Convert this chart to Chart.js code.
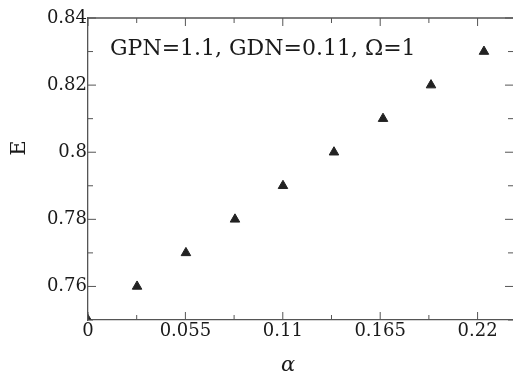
<!DOCTYPE html>
<html>
<head>
<meta charset="utf-8">
<script src="https://cdn.jsdelivr.net/npm/chart.js@4"></script>
<style>
  html, body { margin: 0; padding: 0; background: #fff; overflow: hidden; }
</style>
</head>
<body>
<canvas id="myChart" width="513" height="383"></canvas>
<script>
// values
const alpha = [0, 0.0277, 0.0553, 0.0830, 0.1101, 0.1389, 0.1666, 0.1937, 0.2236];
const energy = [0.75, 0.76, 0.77, 0.78, 0.79, 0.80, 0.81, 0.82, 0.83];

const xTickValues = [0, 0.0275, 0.055, 0.0825, 0.11, 0.1375, 0.165, 0.1925, 0.22];
const xTickLabels = ['0', '', '0.055', '', '0.11', '', '0.165', '', '0.22'];
const yTickValues = [0.75, 0.76, 0.77, 0.78, 0.79, 0.80, 0.81, 0.82, 0.83, 0.84];
const yTickLabels = ['', '0.76', '', '0.78', '', '0.8', '', '0.82', '', '0.84'];

const note = 'GPN=1.1, GDN=0.11, \u03A9=1';
const FONT = '"DejaVu Serif", "Liberation Serif", serif';
const LINE = '#555';

const frame = {
    id: 'frame',
    afterDraw(chart) {
        const {ctx, chartArea: a, scales: {x, y}} = chart;
        ctx.save();
        ctx.strokeStyle = LINE;
        ctx.lineWidth = 1.3;
        // top border
        ctx.beginPath();
        ctx.moveTo(a.left, a.top);
        ctx.lineTo(a.right, a.top);
        ctx.stroke();
        // inward ticks, long for labelled ones
        ctx.lineWidth = 1;
        xTickValues.forEach((v, i) => {
            const px = x.getPixelForValue(v);
            const len = xTickLabels[i] ? 8 : 5;
            ctx.beginPath();
            ctx.moveTo(px, a.bottom); ctx.lineTo(px, a.bottom - len);
            ctx.moveTo(px, a.top); ctx.lineTo(px, a.top + len);
            ctx.stroke();
        });
        yTickValues.forEach((v, i) => {
            const py = y.getPixelForValue(v);
            const len = yTickLabels[i] ? 8 : 5;
            ctx.beginPath();
            ctx.moveTo(a.left, py); ctx.lineTo(a.left + len, py);
            ctx.moveTo(a.right, py); ctx.lineTo(a.right - len, py);
            ctx.stroke();
        });
        // note text
        ctx.fillStyle = '#1a1a1a';
        ctx.font = '22px ' + FONT;
        ctx.textBaseline = 'middle';
        ctx.textAlign = 'left';
        ctx.fillText(note, a.left + 22, a.top + 31);
        // axis titles
        ctx.font = 'italic 21px ' + FONT;
        ctx.textAlign = 'center';
        ctx.fillText('\u03B1', a.left + 200, 366);
        ctx.translate(20, a.top + 130);
        ctx.rotate(-Math.PI / 2);
        ctx.font = '21px ' + FONT;
        ctx.fillText('E', 0, 0);
        ctx.restore();
    }
};

new Chart(document.getElementById('myChart'), {
    type: 'scatter',
    data: {
        datasets: [{
            data: alpha.map((a, i) => ({x: a, y: energy[i]})),
            pointStyle: 'triangle',
            pointRadius: 5.5,
            backgroundColor: '#222',
            borderColor: '#222',
            borderWidth: 1
        }]
    },
    options: {
        responsive: false,
        animation: false,
        layout: {autoPadding: false, padding: {top: 18, right: 0, left: 0, bottom: 0}},
        plugins: {legend: {display: false}, tooltip: {enabled: false}},
        scales: {
            x: {
                type: 'linear',
                min: 0,
                max: 0.24,
                afterBuildTicks: s => { s.ticks = xTickValues.map(v => ({value: v})); },
                afterFit: s => {
                    s.height = 63;
                    s.paddingLeft = 0;
                    s.paddingRight = 0;
                },
                grid: {display: false, drawTicks: false},
                border: {display: true, color: LINE, width: 1.3},
                ticks: {
                    color: '#1a1a1a',
                    padding: 1,
                    autoSkip: false,
                    maxRotation: 0,
                    font: {family: FONT, size: 18},
                    callback: (v, i) => xTickLabels[i]
                }
            },
            y: {
                min: 0.75,
                max: 0.84,
                afterBuildTicks: s => { s.ticks = yTickValues.map(v => ({value: v})); },
                afterFit: s => { s.width = 88; },
                grid: {display: false, drawTicks: false},
                border: {display: true, color: LINE, width: 1.3},
                ticks: {
                    color: '#1a1a1a',
                    padding: 1,
                    autoSkip: false,
                    font: {family: FONT, size: 18},
                    callback: (v, i) => yTickLabels[i]
                }
            }
        }
    },
    plugins: [frame]
});
</script>
</body>
</html>
